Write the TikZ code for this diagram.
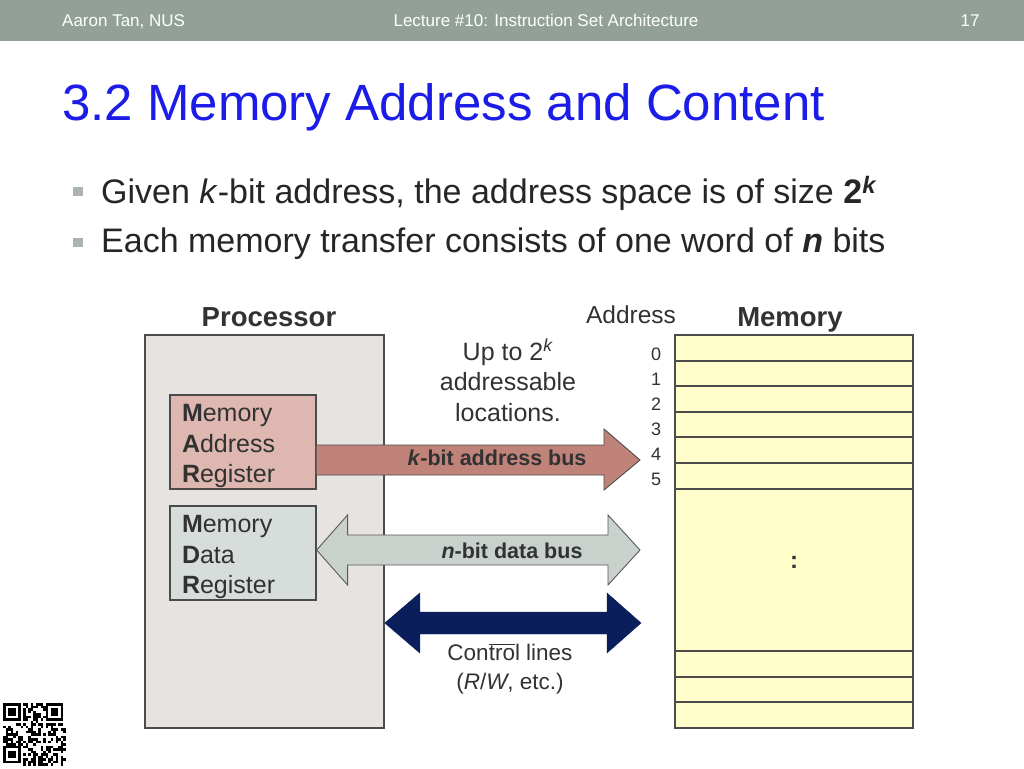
\documentclass[tikz,border=0pt]{standalone}
\usepackage{fontspec}
\setmainfont{Liberation Sans}
\usetikzlibrary{positioning,calc}

\definecolor{headgrey}{RGB}{146,160,152}
\definecolor{titleblue}{RGB}{28,28,232}
\definecolor{bulletgrey}{RGB}{172,180,176}
\definecolor{bodytext}{RGB}{38,38,38}
\definecolor{diagtext}{RGB}{50,50,50}
\definecolor{procfill}{RGB}{230,227,224}
\definecolor{marfill}{RGB}{221,183,176}
\definecolor{mdrfill}{RGB}{214,221,218}
\definecolor{addrbus}{RGB}{192,131,122}
\definecolor{databus}{RGB}{201,209,205}
\definecolor{ctrlbus}{RGB}{10,30,92}
\definecolor{memfill}{RGB}{255,253,202}
\definecolor{boxline}{RGB}{75,75,75}

\begin{document}
\begin{tikzpicture}[x=1pt, y=-1pt,
  regbox/.style={draw=boxline, line width=1.2pt, minimum width=146pt, minimum height=94pt, inner sep=0pt},
  regtext/.style={inner xsep=12pt, inner ysep=0pt, text width=122pt, align=left, text=diagtext,
    font=\fontsize{25}{30.5}\selectfont},
  unitbox/.style={draw=boxline, line width=1.6pt, minimum width=238pt, minimum height=393pt, inner sep=0pt},
  unitlabel/.style={font=\fontsize{27.5}{33}\selectfont\bfseries, text=diagtext, anchor=base},
  buslabel/.style={font=\fontsize{21.5}{26}\selectfont\bfseries, text=diagtext},
  busline/.style={draw=black!65, line width=0.9pt, line join=miter},
  bullet/.style={fill=bulletgrey, minimum width=10pt, minimum height=9pt, inner sep=0pt},
  bullettext/.style={font=\fontsize{34}{40}\selectfont, text=bodytext, anchor=base west, inner sep=0pt}]

\useasboundingbox (0,0) rectangle (1024,768);
\fill[white] (0,0) rectangle (1024,768);

% header bar
\fill[headgrey] (0,0) rectangle (1024,41);
\node[font=\fontsize{17}{20}\selectfont, text=white, anchor=base west, inner sep=0pt] (author) at (62,27) {Aaron Tan, NUS};
\node[font=\fontsize{17}{20}\selectfont, text=white, anchor=base, inner sep=0pt] (lecture) at (546,27) {Lecture \#10: Instruction Set Architecture};
\node[font=\fontsize{17}{20}\selectfont, text=white, anchor=base, inner sep=0pt] (page) at (970,27) {17};

% title and bullets
\node[font=\fontsize{51}{60}\selectfont, text=titleblue, anchor=base west, inner sep=0pt] (title) at (62,120) {3.2 Memory Address and Content};
\node[bullet] (b1) at (78,191.5) {};
\node[bullettext] (line1) at (101,203) {Given \textit{k}-bit address, the address space is of size \textbf{2\textsuperscript{\textit{k}}}};
\node[bullet] (b2) at (78,242) {};
\node[bullettext] (line2) at (101,252) {Each memory transfer consists of one word of \textbf{\textit{n}} bits};

% processor side
\node[unitbox, minimum width=239pt, fill=procfill] (proc) at (264.5,531.5) {};
\node[unitlabel] (proclabel) at (269,326) {Processor};
\node[regbox, fill=marfill] (mar) at (243,442) {};
\node[regtext] (martext) at ([yshift=-4pt]mar.center) {\textbf{M}emory\\\textbf{A}ddress\\\textbf{R}egister};
\node[regbox, fill=mdrfill] (mdr) at (243,553) {};
\node[regtext] (mdrtext) at ([yshift=-4pt]mdr.center) {\textbf{M}emory\\\textbf{D}ata\\\textbf{R}egister};

% memory side
\node[unitbox, fill=memfill] (mem) at (794,531.5) {};
\node[unitlabel] (memlabel) at (790,326) {Memory};
\foreach \y in {361,386,412,437,463,489,651,677,702}
  \draw[boxline, line width=1.2pt] (mem.west |- 0,\y) -- (mem.east |- 0,\y);
\node[font=\fontsize{24}{28}\selectfont\bfseries, text=diagtext] (gap) at (794,562) {:};
\node[font=\fontsize{24.5}{28}\selectfont, text=diagtext, anchor=base] (addrhead) at (631,323) {Address};
\foreach \i in {0,...,5}
  \node[font=\fontsize{18}{20}\selectfont, text=diagtext] (num\i) at (656,{354+25*\i}) {\i};

% address bus
\coordinate (abusS) at (mar.east |- 0,460);
\coordinate (abusT) at (640,460);
\draw[busline, draw=black!70, fill=addrbus] ($(abusS)+(0,-15)$) -- ($(abusT)+(-36,-15)$) -- ($(abusT)+(-36,-31)$) -- (abusT)
  -- ($(abusT)+(-36,30)$) -- ($(abusT)+(-36,15)$) -- ($(abusS)+(0,15)$);
\node[buslabel] (abuslabel) at (497,458) {\textit{k}-bit address bus};
\node[font=\fontsize{25}{30.5}\selectfont, text=diagtext, align=center] (locs) at (508,380) {Up to 2\textsuperscript{\textit{k}}\\addressable\\locations.};

% data bus
\coordinate (dbusL) at (mdr.east |- 0,550);
\coordinate (dbusR) at (640,550);
\draw[busline, fill=databus] (dbusL) -- ($(dbusL)+(31,-35)$) -- ($(dbusL)+(31,-15)$) -- ($(dbusR)+(-32,-15)$)
  -- ($(dbusR)+(-32,-35)$) -- (dbusR) -- ($(dbusR)+(-32,35)$) -- ($(dbusR)+(-32,15)$)
  -- ($(dbusL)+(31,15)$) -- ($(dbusL)+(31,35)$) -- cycle;
\node[buslabel] (dbuslabel) at (512,551) {\textit{n}-bit data bus};

% control lines
\coordinate (cbusL) at (proc.east |- 0,623);
\coordinate (cbusR) at (641,623);
\draw[draw=ctrlbus, fill=ctrlbus, line join=miter] (cbusL) -- ($(cbusL)+(35,-30)$) -- ($(cbusL)+(35,-11)$) -- ($(cbusR)+(-34,-11)$)
  -- ($(cbusR)+(-34,-30)$) -- (cbusR) -- ($(cbusR)+(-34,30)$) -- ($(cbusR)+(-34,11)$)
  -- ($(cbusL)+(35,11)$) -- ($(cbusL)+(35,30)$) -- cycle;
\node[font=\fontsize{22.5}{29}\selectfont, text=diagtext, align=center] (ctrllabel) at (510,669) {Con$\overline{\mbox{tro}}$l lines\\(\textit{R}/\textit{W}, etc.)};

% qr code
\pgfmathsetseed{1710}
\foreach \i in {0,...,24}
  \foreach \j in {0,...,24} {
    \pgfmathtruncatemacro\on{(rnd>0.5) && !((\i<8 && \j<8) || (\i>16 && \j<8) || (\i<8 && \j>16))}
    \ifnum\on=1 \fill[black] ({3+2.5*\i},{703+2.5*\j}) rectangle +(2.5,2.5); \fi
  }
\foreach \qx/\qy in {3/703, 45.5/703, 3/745.5} {
  \fill[black] (\qx,\qy) rectangle +(17.5,17.5);
  \fill[white] ({\qx+2.5},{\qy+2.5}) rectangle +(12.5,12.5);
  \fill[black] ({\qx+5},{\qy+5}) rectangle +(7.5,7.5);
}
\end{tikzpicture}
\end{document}
